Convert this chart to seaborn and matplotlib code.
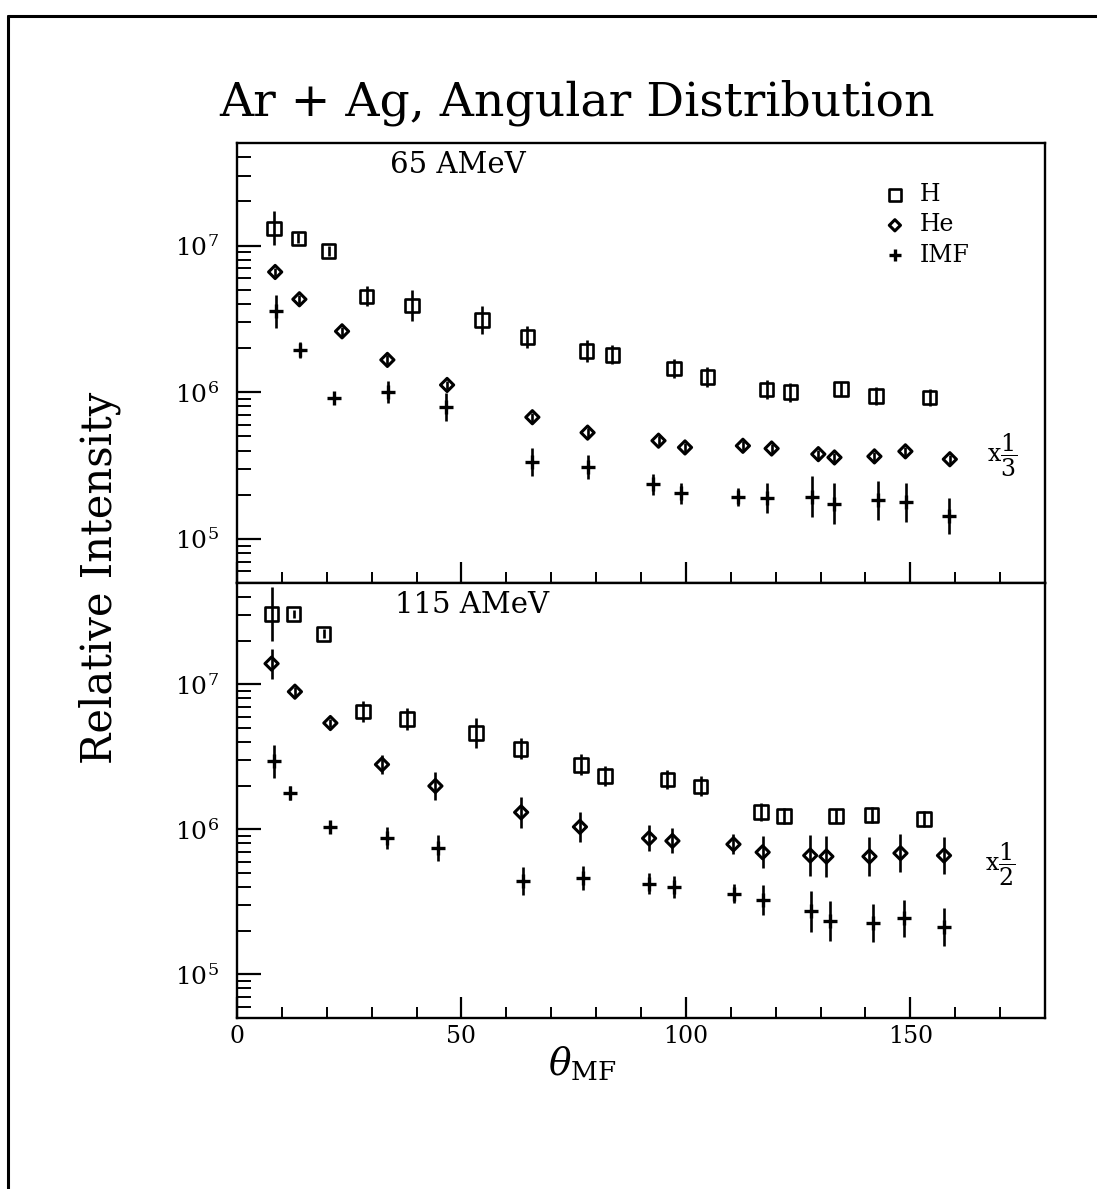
import numpy as np
import matplotlib
matplotlib.use("Agg")
import matplotlib.pyplot as plt
import seaborn as sns
from matplotlib.ticker import LogLocator, MultipleLocator, LogFormatterMathtext, NullFormatter
from matplotlib.lines import Line2D

# ---------------- data ----------------
# 65 AMeV panel
theta_h_65 = [8.3, 13.7, 20.4, 28.9, 39.0, 54.6, 64.7, 77.9, 83.6, 97.3, 104.8, 118.0, 123.3, 134.6, 142.4, 154.3]
h_65 = [1.31e7, 1.12e7, 9.2e6, 4.5e6, 3.9e6, 3.1e6, 2.38e6, 1.91e6, 1.80e6, 1.45e6, 1.27e6, 1.04e6, 1.00e6, 1.05e6, 9.4e5, 9.2e5]
h_65_err = [0.117, 0.035, 0.035, 0.068, 0.105, 0.095, 0.072, 0.073, 0.066, 0.063, 0.070, 0.063, 0.065, 0.046, 0.060, 0.057]

theta_he_65 = [8.5, 13.9, 23.4, 33.5, 46.8, 65.8, 78.1, 93.9, 99.8, 112.7, 119.1, 129.5, 133.1, 142.0, 148.9, 158.8]
he_65 = [6.6e6, 4.3e6, 2.6e6, 1.66e6, 1.12e6, 6.75e5, 5.3e5, 4.67e5, 4.2e5, 4.31e5, 4.13e5, 3.78e5, 3.59e5, 3.65e5, 3.95e5, 3.49e5]
he_65_err = [0.03] * 16

theta_imf_65 = [8.7, 14.1, 21.7, 33.6, 46.6, 65.8, 78.2, 92.7, 98.9, 111.7, 118.1, 128.1, 133.0, 142.8, 149.1, 158.6]
imf_65 = [3.57e6, 1.93e6, 9.1e5, 1.01e6, 7.9e5, 3.32e5, 3.11e5, 2.36e5, 2.04e5, 1.93e5, 1.91e5, 1.94e5, 1.74e5, 1.83e5, 1.77e5, 1.43e5]
imf_65_err = [0.113, 0.055, 0.034, 0.075, 0.096, 0.096, 0.082, 0.072, 0.072, 0.062, 0.103, 0.140, 0.140, 0.134, 0.130, 0.123]

# 115 AMeV panel
theta_h_115 = [7.7, 12.6, 19.3, 28.1, 37.9, 53.3, 63.2, 76.6, 82.0, 95.9, 103.3, 116.7, 121.9, 133.5, 141.4, 153.0]
h_115 = [3.06e7, 3.06e7, 2.23e7, 6.5e6, 5.76e6, 4.61e6, 3.59e6, 2.79e6, 2.33e6, 2.21e6, 1.98e6, 1.32e6, 1.24e6, 1.24e6, 1.26e6, 1.18e6]
h_115_err = [0.185, 0.03, 0.03, 0.072, 0.075, 0.103, 0.072, 0.072, 0.070, 0.065, 0.068, 0.062, 0.055, 0.048, 0.054, 0.057]

theta_he_115 = [7.7, 12.9, 20.8, 32.3, 44.2, 63.3, 76.4, 91.8, 97.0, 110.6, 117.1, 127.7, 131.3, 140.9, 147.8, 157.5]
he_115 = [1.39e7, 8.9e6, 5.41e6, 2.8e6, 1.99e6, 1.31e6, 1.04e6, 8.67e5, 8.32e5, 7.89e5, 6.95e5, 6.6e5, 6.5e5, 6.5e5, 6.85e5, 6.6e5]
he_115_err = [0.103, 0.03, 0.03, 0.068, 0.096, 0.106, 0.103, 0.089, 0.086, 0.068, 0.110, 0.144, 0.140, 0.134, 0.130, 0.125]

theta_imf_115 = [8.3, 11.8, 20.8, 33.5, 44.7, 63.7, 77.1, 91.7, 97.4, 110.8, 117.1, 127.9, 132.2, 141.7, 148.6, 157.5]
imf_115 = [2.95e6, 1.79e6, 1.03e6, 8.67e5, 7.4e5, 4.38e5, 4.62e5, 4.23e5, 4.01e5, 3.61e5, 3.24e5, 2.73e5, 2.33e5, 2.27e5, 2.43e5, 2.13e5]
imf_115_err = [0.114, 0.048, 0.041, 0.075, 0.089, 0.096, 0.086, 0.075, 0.075, 0.068, 0.103, 0.142, 0.139, 0.130, 0.130, 0.130]

species = ["H", "He", "IMF"]
panel_labels = ["65 AMeV", "115 AMeV"]
scale_labels = [r"x$\dfrac{1}{3}$", r"x$\dfrac{1}{2}$"]
x_ticks = [0, 50, 100, 150]

# ---------------- style ----------------
sns.set_style("ticks")
plt.rcParams["font.family"] = ["DejaVu Serif"]
plt.rcParams["mathtext.fontset"] = "dejavuserif"
plt.rcParams["axes.linewidth"] = 1.6
for key in ["text.color", "axes.labelcolor", "xtick.color", "ytick.color", "axes.edgecolor"]:
    plt.rcParams[key] = "black"

W, H = 1097, 1189
fig = plt.figure(figsize=(W / 100, H / 100), dpi=100)
fig.patch.set_facecolor("white")

left = 237 / W
width = 808 / W
ax_top = fig.add_axes([left, 1 - 583 / H, width, 440 / H])
ax_bot = fig.add_axes([left, 1 - 1018 / H, width, 435 / H])

marker_style = {
    "H": dict(marker="s", s=95, facecolor="none", edgecolor="black", linewidth=1.9),
    "He": dict(marker="D", s=45, facecolor="none", edgecolor="black", linewidth=2.2),
    "IMF": dict(marker="+", s=110, color="black", linewidth=2.4),
}


def draw(ax, x, y, err, name, label=None):
    y = np.asarray(y, dtype=float)
    err = np.asarray(err, dtype=float)
    lower = y - y * 10 ** (-err)
    upper = y * 10 ** err - y
    ax.errorbar(x, y, yerr=[lower, upper], fmt="none", ecolor="black",
                elinewidth=1.9, capsize=0, zorder=2)
    sns.scatterplot(x=x, y=y, ax=ax, label=label, zorder=3, **marker_style[name])


panels = [
    (ax_top, [(theta_h_65, h_65, h_65_err), (theta_he_65, he_65, he_65_err), (theta_imf_65, imf_65, imf_65_err)]),
    (ax_bot, [(theta_h_115, h_115, h_115_err), (theta_he_115, he_115, he_115_err), (theta_imf_115, imf_115, imf_115_err)]),
]

label_x = [(390 - 237) / 808, (395 - 237) / 808]
for i, (ax, series) in enumerate(panels):
    for name, (x, y, e) in zip(species, series):
        draw(ax, x, y, e, name, label=name if i == 0 else None)
    ax.set_yscale("log")
    ax.set_ylim(5e4, 5e7)
    ax.set_xlim(0, 180)
    ax.yaxis.set_major_locator(LogLocator(base=10, numticks=10))
    ax.yaxis.set_minor_locator(LogLocator(base=10, subs=np.arange(2, 10), numticks=20))
    ax.yaxis.set_major_formatter(LogFormatterMathtext())
    ax.yaxis.set_minor_formatter(NullFormatter())
    ax.xaxis.set_major_locator(plt.FixedLocator(x_ticks))
    ax.xaxis.set_minor_locator(MultipleLocator(10))
    ax.tick_params(axis="y", which="major", direction="in", length=17, width=1.6,
                   labelsize=18, pad=13, left=True, right=False)
    ax.tick_params(axis="y", which="minor", direction="in", length=10, width=1.4,
                   left=True, right=False)
    ax.tick_params(axis="x", which="major", direction="in", length=15, width=1.6,
                   labelsize=17, pad=5, bottom=True, top=False)
    ax.tick_params(axis="x", which="minor", direction="in", length=8, width=1.4,
                   bottom=True, top=False)
    for sp in ax.spines.values():
        sp.set_visible(True)
        sp.set_linewidth(1.7)
        sp.set_color("black")
    ax.set_xlabel("")
    ax.set_ylabel("")
    ax.text(label_x[i], 0.95, panel_labels[i],
            transform=ax.transAxes, fontsize=21, ha="left", va="center")

ax_top.tick_params(axis="x", labelbottom=False)

leg = ax_top.legend(loc="upper left", bbox_to_anchor=(0.785, 0.935), frameon=False,
                    fontsize=17, handletextpad=0.55, labelspacing=0.3,
                    borderpad=0, handlelength=1.0, markerscale=0.85)

# scale factors on the right
fig.text(987 / W, 1 - 455 / H, scale_labels[0], fontsize=17, ha="left", va="center")
fig.text(985 / W, 1 - 864 / H, scale_labels[1], fontsize=17, ha="left", va="center")

# titles / axis labels
fig.text(577 / W, 1 - 103 / H, "Ar + Ag, Angular Distribution", fontsize=34,
         ha="center", va="center")
fig.text(100 / W, 1 - 578 / H, "Relative Intensity", fontsize=30,
         rotation=90, ha="center", va="center")
fig.text(582 / W, 1 - 1064 / H, r"$\theta_{\rm MF}$", fontsize=27,
         ha="center", va="center")

# outer frame (left and top edges)
fig.add_artist(Line2D([8 / W, 8 / W], [0, 1 - 16 / H], transform=fig.transFigure,
                      color="black", linewidth=2.2))
fig.add_artist(Line2D([8 / W, 1], [1 - 16 / H, 1 - 16 / H], transform=fig.transFigure,
                      color="black", linewidth=2.2))

fig.savefig("out.png", dpi=100, facecolor="white")
